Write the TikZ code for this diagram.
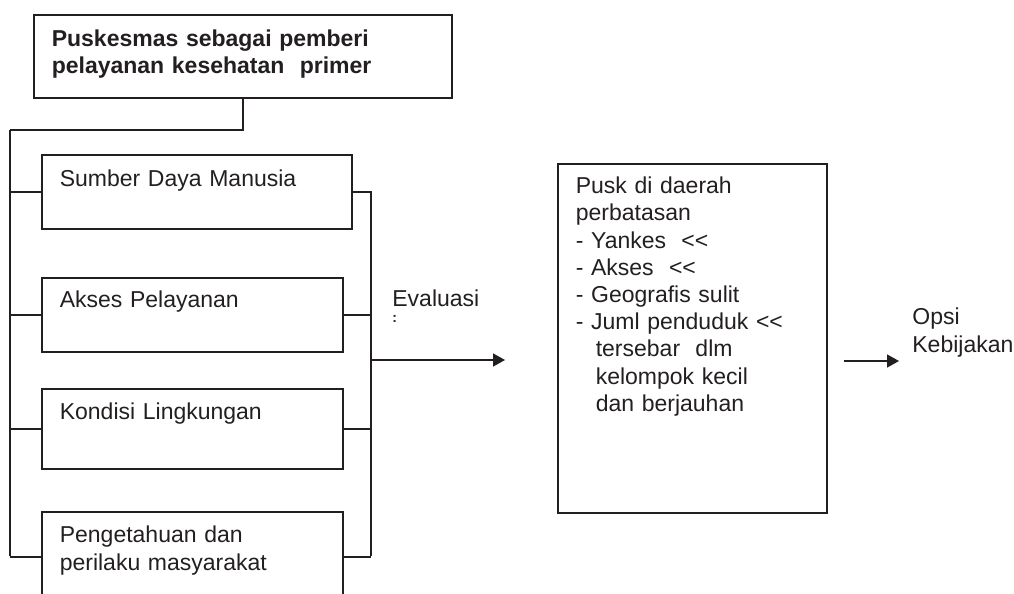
\documentclass[tikz,border=0pt]{standalone}
\usepackage{fontspec}
\setmainfont{Liberation Sans}
\usepackage{color}
\usepackage{tikz}
\usetikzlibrary{positioning, arrows.meta}
\definecolor{tinta}{HTML}{231F20}
\tikzstyle{kotak}=[draw, thick, anchor=north west, align=left, inner xsep=9pt, inner ysep=0pt, font=\fontsize{11.5}{13.6}\selectfont]
\tikzstyle{teks}=[anchor=base west, inner sep=0pt, align=left, font=\fontsize{11.5}{13.6}\selectfont]
\tikzset{>={Triangle[length=6pt, width=6.5pt]}}

\begin{document}
\begin{tikzpicture}[x=0.5pt, y=-0.5pt, color=tinta]
\useasboundingbox (0,0) rectangle (1014,594);
\clip (0,0) rectangle (1014,594);

\node[kotak, text width=191pt, text height=16pt, text depth=25.5pt, font=\fontsize{11.5}{13.6}\selectfont\bfseries] (puskesmas) at (33,14) {Puskesmas sebagai pemberi\\pelayanan kesehatan\ \ primer};
\node[kotak, text width=137pt, text height=16pt, text depth=21pt] (sdm) at (41,154) {Sumber Daya Manusia};
\node[kotak, text width=132.5pt, text height=15pt, text depth=22pt] (akses) at (41,277) {Akses Pelayanan};
\node[kotak, text width=132.5pt, text height=15.5pt, text depth=24.5pt] (kondisi) at (41,388) {Kondisi Lingkungan};
\node[kotak, text width=132.5pt, text height=15.5pt, text depth=29.5pt] (pengetahuan) at (41,511) {Pengetahuan dan\\perilaku masyarakat};
\node[kotak, text width=116.5pt, text height=15pt, text depth=159.5pt] (perbatasan) at (557,163) {Pusk di daerah\\perbatasan\\- Yankes\ \ <{}<\\- Akses\ \ <{}<\\- Geografis sulit\\- Juml penduduk <{}<\\\hspace*{10pt}tersebar\ \ dlm\\\hspace*{10pt}kelompok kecil\\\hspace*{10pt}dan berjauhan};

\node[teks] (evaluasi) at (392,306) {Evaluasi};
\node[teks, font=\fontsize{7}{7}\selectfont\bfseries] (titikdua) at (392,322) {:};
\node[teks] (opsi) at (912,352) {Opsi\\Kebijakan};

\coordinate (kiriatas) at (10,130);
\coordinate (kiribawah) at (10,556);
\coordinate (kananatas) at (371,191);
\coordinate (kananbawah) at (371,556);
\coordinate (evalawal) at (371,360);
\coordinate (evalujung) at (505,360);
\coordinate (opsiawal) at (844,361);
\coordinate (opsiujung) at (899,361);

\draw[thick] (puskesmas.south) |- (kiriatas);
\draw[thick] (kiriatas) -- (kiribawah);

\draw[thick] (sdm.west) -- (sdm.west -| kiriatas);
\draw[thick] (akses.west) -- (akses.west -| kiriatas);
\draw[thick] (kondisi.west) -- (kondisi.west -| kiriatas);
\draw[thick] (pengetahuan.west) -- (pengetahuan.west -| kiriatas);

\draw[thick] (sdm.east) -- (sdm.east -| kananatas);
\draw[thick] (akses.east) -- (akses.east -| kananatas);
\draw[thick] (kondisi.east) -- (kondisi.east -| kananatas);
\draw[thick] (pengetahuan.east) -- (pengetahuan.east -| kananatas);
\draw[thick] (kananatas) -- (kananbawah);

\draw[thick, ->] (evalawal) -- (evalujung);
\draw[thick, ->] (opsiawal) -- (opsiujung);
\end{tikzpicture}
\end{document}
